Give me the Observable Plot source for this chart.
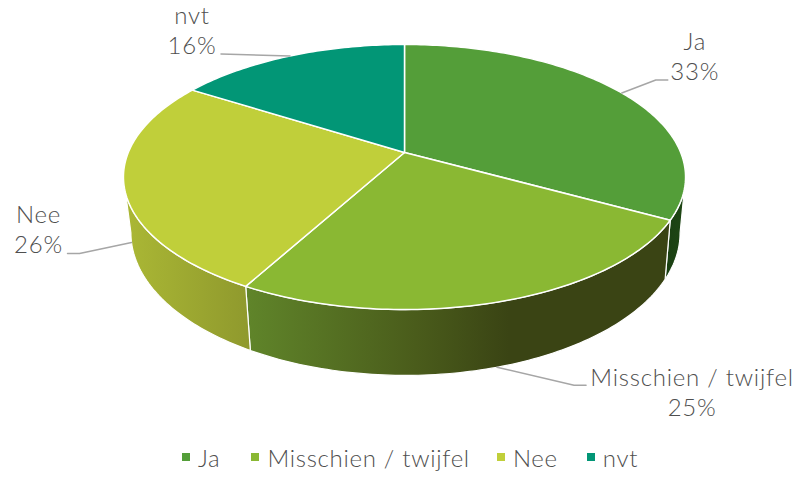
<!DOCTYPE html>
<html>
<head>
<meta charset="utf-8">
<script src="https://cdn.jsdelivr.net/npm/d3@7"></script>
<script src="https://cdn.jsdelivr.net/npm/@observablehq/plot@0.6"></script>
<style>
html,body{margin:0;padding:0;background:#fff;width:798px;height:477px;overflow:hidden}
#legend{display:flex;height:40px;align-items:center;justify-content:flex-start;padding-left:182px;font:300 24px Lato,sans-serif;letter-spacing:0.7px;color:#4f4f4f;box-sizing:border-box;white-space:nowrap}
#legend span.k{display:inline-block;width:8px;height:8px;margin-right:8px}
#legend div{display:flex;align-items:center}
svg{display:block}
text{letter-spacing:0.75px}
</style>
</head>
<body>
<div id="chart"></div>
<div id="legend"></div>
<script>
const categories = ["Ja", "Misschien / twijfel", "Nee", "nvt"];
const values = [33, 25, 26, 16];
const colors = ["#549E39", "#8AB833", "#C0CF3A", "#029676"];
const legendGaps = [31, 27, 29, 0];

const W = 798, H = 437;
// perspective disc geometry
const cx = 404, cy = 152, R = 276.2, B = 128, k = 0.185;
const bx = 0.977, bxShift = 1, by = 1.075, by0 = 277, byRef = 218;
const DEG = Math.PI / 180;
const rimTop = t => {
  const u = Math.sin(t), v = Math.cos(t), w = 1 + k * v;
  return [cx + R * u / w, cy - B * v / w];
};
const rimBottom = t => {
  const [x, y] = rimTop(t);
  return [cx + bxShift + bx * (x - cx), by0 + by * (y - byRef)];
};
const total = d3.sum(values);
let acc = 0;
const slices = values.map((v, i) => {
  const a0 = acc / total * 2 * Math.PI; acc += v;
  const a1 = acc / total * 2 * Math.PI;
  return {i, name: categories[i], value: v, a0, a1, mid: (a0 + a1) / 2};
});
const arcPts = (f, a, b) => {
  const n = Math.max(2, Math.ceil(Math.abs(b - a) / DEG));
  return d3.range(n + 1).map(j => f(a + (b - a) * j / n));
};
const rows = pts => pts.map(([x, y]) => ({x, y}));

const topPoly = s => rows([[cx, cy], ...arcPts(rimTop, s.a0, s.a1)]);
const visL = Math.acos(-k), visR = 2 * Math.PI - visL;
const wallPoly = s => {
  const a = Math.max(s.a0, visL), b = Math.min(s.a1, visR);
  if (a >= b) return null;
  return rows([...arcPts(rimTop, a, b), ...arcPts(rimBottom, b, a)]);
};
const wallFill = ["url(#w0)", "url(#w1)", "url(#w2)", "#000"];

const defs = () => {
  const d = d3.create("svg:defs");
  const grad = (id, stops) => {
    const g = d.append("linearGradient").attr("id", id).attr("x1", 0).attr("x2", 1).attr("y1", 0).attr("y2", 0);
    stops.forEach(([o, c]) => g.append("stop").attr("offset", o).attr("stop-color", c));
  };
  grad("w0", [[0, "#1a3f12"], [1, "#1f4715"]]);
  grad("w1", [[0, "#60852a"], [0.4, "#4a5c1b"], [0.62, "#3a4414"], [1, "#3a4414"]]);
  grad("w2", [[0, "#abb835"], [1, "#8f992d"]]);
  return d.node();
};

// leader lines, anchored at each slice's mid-angle rim point
const leaderSpec = [
  {rim: rimTop, off: [[34, -13], [46, -13]], text: [73, -38]},
  {rim: rimBottom, off: [[77, 18], [89, 18]], text: [195, 24]},
  {rim: rimBottom, off: [[-52, 11], [-64, 11]], text: [-93, -14.5]},
  {rim: rimTop, off: [[-69, -2]], text: [-98, -26.5]}
];
const leaders = slices.map((s, i) => {
  const [x, y] = leaderSpec[i].rim(s.mid);
  return rows([[x, y], ...leaderSpec[i].off.map(([dx, dy]) => [x + dx, y + dy])]);
});
const labels = slices.map((s, i) => {
  const [x, y] = leaderSpec[i].rim(s.mid);
  const [dx, dy] = leaderSpec[i].text;
  return {x: x + dx, y: y + dy, t: `${s.name}\n${s.value}%`};
});

const marks = [defs];
slices.forEach((s, i) => {
  const p = wallPoly(s);
  if (p) marks.push(Plot.line(p, {x: "x", y: "y", curve: "linear-closed", fill: wallFill[i], stroke: "#fff", strokeWidth: 1.2}));
});
slices.forEach((s, i) => {
  marks.push(Plot.line(topPoly(s), {x: "x", y: "y", curve: "linear-closed", fill: colors[i], stroke: "#fff", strokeWidth: 1.5}));
});
leaders.forEach(l => marks.push(Plot.line(l, {x: "x", y: "y", stroke: "#a6a6a6", strokeWidth: 1.5})));
marks.push(Plot.text(labels, {x: "x", y: "y", text: "t", fontSize: 24, fontWeight: 300, lineHeight: 1.25, fill: "#4f4f4f", textAnchor: "middle", lineAnchor: "middle", fontFamily: "Lato"}));

const chart = Plot.plot({
  width: W, height: H, margin: 0,
  x: {domain: [0, W], range: [0, W], axis: null},
  y: {domain: [0, H], range: [0, H], axis: null},
  style: {background: "#fff", fontFamily: "Lato"},
  marks
});
document.getElementById("chart").append(chart);

const legend = d3.select("#legend");
categories.forEach((c, i) => {
  const it = legend.append("div").style("margin-right", legendGaps[i] + "px");
  it.append("span").attr("class", "k").style("background", colors[i]);
  it.append("span").text(c);
});
</script>
</body>
</html>
